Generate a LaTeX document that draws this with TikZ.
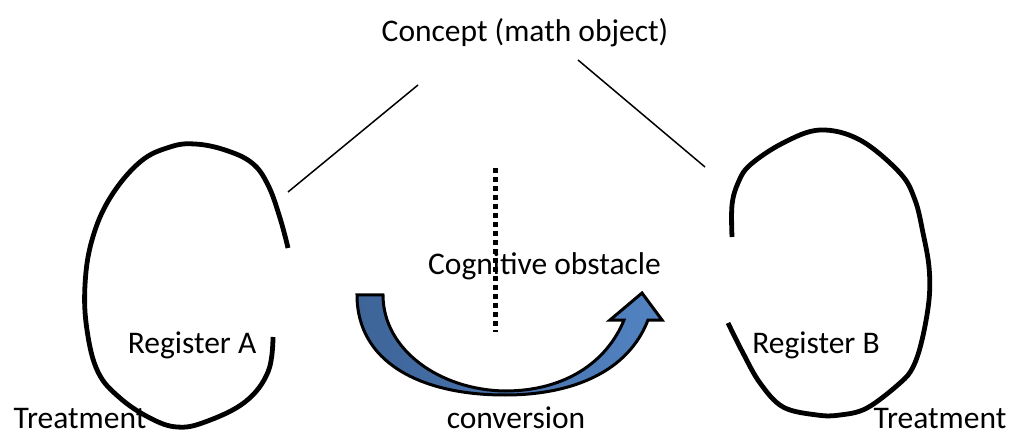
\documentclass[tikz,border=0pt]{standalone}
\usepackage{fontspec}
\setmainfont{Carlito}
\definecolor{arrowdark}{HTML}{3E6498}
\definecolor{arrowlight}{HTML}{5283C2}
\begin{document}
\begin{tikzpicture}[x=1pt,y=-1pt,
  lbl/.style={inner sep=0pt, anchor=base, font=\fontsize{31.5}{36}\selectfont},
  botlbl/.style={lbl, text depth=0pt},
  regline/.style={line width=4.8pt, line cap=butt, line join=round},
  conn/.style={line width=1.5pt},
  obst/.style={line width=5pt, dash pattern=on 5pt off 4pt},
  bigarrow/.style={line width=3pt, line join=miter, left color=arrowdark, right color=arrowlight}]
\useasboundingbox (0,0) rectangle (1011,435);

% register shapes
\draw[regline] plot[smooth, tension=0.65] coordinates {
  (273,337) (268,372) (245,402) (205,422) (177,427) (150,418) (120,398)
  (98,372) (87,330) (85,285) (92,240) (110,198) (140,162) (170,147)
  (195,144) (225,150) (252,163) (268,185) (280,218) (288,248)};
\draw[regline] plot[smooth, tension=0.6] coordinates {
  (732,237) (732,205) (738,183) (750,165) (783,143) (820,130) (860,140)
  (900,173) (915,200) (923,233) (929,267) (929,300) (922,340) (913,367)
  (900,383) (867,408) (840,415) (817,415) (783,407) (760,383) (743,353) (728,323)};

% labels
\node[lbl] (concept) at (525,42) {Concept (math object)};
\node[lbl] (regA) at (192,353) {Register A};
\node[lbl] (regB) at (816,353) {Register B};
\node[botlbl] (treatA) at (80,428) {Treatment};
\node[botlbl] (treatB) at (940,428) {Treatment};
\node[botlbl] (conv) at (516,428) {conversion};

% connectors to the concept
\coordinate (la) at (288,192);
\coordinate (lb) at (418,85);
\coordinate (ra) at (578,60);
\coordinate (rb) at (705,167);
\draw[conn] (la) -- (lb);
\draw[conn] (ra) -- (rb);

% curved conversion arrow
\path[bigarrow, draw=black] (357,295) -- (383,295)
  .. controls (383,350) and (440,390) .. (505,391)
  .. controls (565,391) and (607,362) .. (624,320)
  -- (610,320) -- (642,293) -- (662,320) -- (648,320)
  .. controls (628,372) and (572,395) .. (505,395)
  .. controls (420,395) and (357,362) .. (357,295) -- cycle;

% cognitive obstacle
\coordinate (ob1) at (495,168);
\coordinate (ob2) at (495,332);
\draw[obst] (ob1) -- (ob2);
\node[lbl] (cog) at (544.5,275) {Cognitive obstacle};
\end{tikzpicture}
\end{document}
